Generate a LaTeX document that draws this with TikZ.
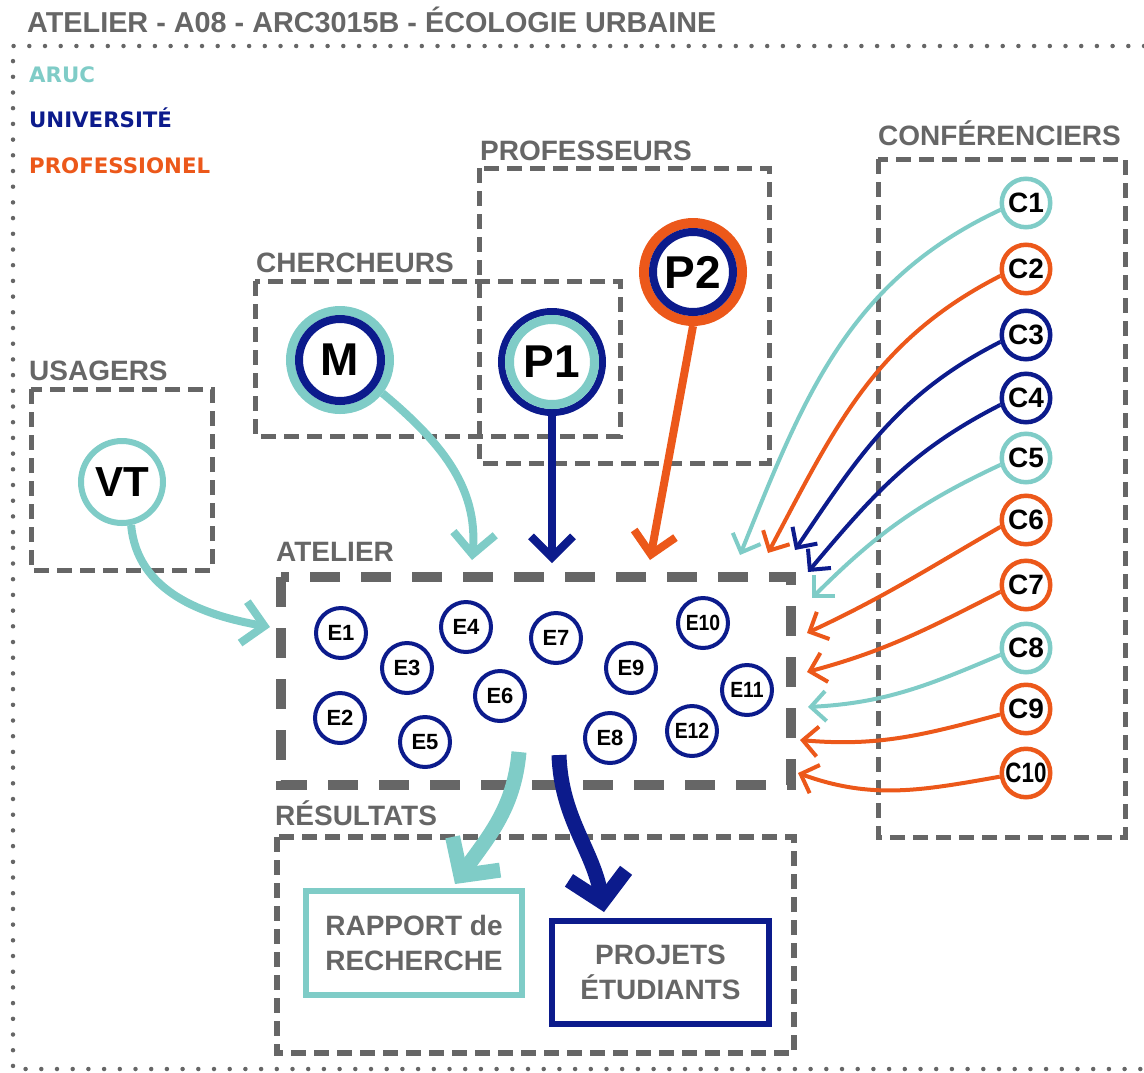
\documentclass[tikz,border=0pt]{standalone}
\usepackage{fontspec}
\setmainfont{Liberation Sans}
\newfontfamily\legfont{DejaVu Sans}
\usetikzlibrary{arrows.meta}
\definecolor{gr}{HTML}{666666}
\definecolor{tl}{HTML}{7FCCC7}
\definecolor{nv}{HTML}{0C1B8C}
\definecolor{org}{HTML}{EC581A}
\begin{document}
\begin{tikzpicture}[x=1pt,y=1pt,
  grp/.style={draw=gr, line width=5pt, dash pattern=on 15pt off 8pt},
  lbl/.style={text=gr, font=\fontsize{28}{30}\selectfont\bfseries, anchor=base west, inner sep=0pt},
  leg/.style={font=\legfont\fontsize{21.3}{24}\selectfont\bfseries, anchor=base west, inner sep=0pt},
  enode/.style={circle, draw=nv, line width=4pt, minimum size=50pt, inner sep=0pt, fill=white, font=\fontsize{22}{22}\selectfont\bfseries},
  cnode/.style={circle, line width=4.5pt, minimum size=48.5pt, inner sep=0pt, fill=white, font=\fontsize{28}{28}\selectfont\bfseries},
  bignode/.style={circle, inner sep=0pt, fill=white, font=\fontsize{46}{46}\selectfont\bfseries},
  carrow/.style={line width=4pt, -{Straight Barb[length=15pt,width=30pt]}},
  tarrow/.style={line width=8pt, -{Straight Barb[length=21pt,width=42pt]}},
  rarrow/.style={line width=15pt, -{Straight Barb[length=27pt,width=58pt]}},
  resbox/.style={rectangle, line width=6pt, inner sep=0pt, text=gr, align=center, font=\fontsize{28}{35}\selectfont\bfseries},
]
\useasboundingbox (0,0) rectangle (1144,-1072);

% title and outer frame
\node[lbl, font=\fontsize{28.8}{32}\selectfont\bfseries] (title) at (27,-32) {ATELIER - A08 - ARC3015B - ÉCOLOGIE URBAINE};
\draw[gr, line width=4.5pt, line cap=round, dash pattern=on 0pt off 15.7pt] (1144,-46) -- (13,-46) -- (13,-1069) -- (1144,-1069);

% legend
\node[leg, text=tl] (lg1) at (29,-82) {ARUC};
\node[leg, text=nv] (lg2) at (29,-127) {UNIVERSITÉ};
\node[leg, text=org] (lg3) at (29,-173) {PROFESSIONEL};

% group boxes
\draw[grp] (31,-389) rectangle (212,-570);
\node[lbl] (lu) at (29,-380) {USAGERS};
\draw[grp] (255,-281) rectangle (620,-436);
\node[lbl] (lc) at (256,-272) {CHERCHEURS};
\draw[grp] (479,-168) rectangle (769,-463);
\node[lbl] (lp) at (480,-160) {PROFESSEURS};
\draw[grp] (878,-159) rectangle (1125,-837);
\node[lbl] (lcf) at (878,-145) {CONFÉRENCIERS};
\draw[grp, line width=5.5pt] (277,-837) rectangle (794,-1053);
\node[lbl] (lr) at (275,-825) {RÉSULTATS};
\draw[gr, line width=10pt, dash pattern=on 30pt off 21pt] (281,-577) rectangle (791,-785);
\node[lbl] (la) at (276,-561) {ATELIER};

% students
\node[enode] (E1) at (341,-633) {E1};
\node[enode] (E2) at (340,-718) {E2};
\node[enode] (E3) at (407,-668) {E3};
\node[enode] (E4) at (466,-627) {E4};
\node[enode] (E5) at (425,-742) {E5};
\node[enode] (E6) at (500,-696) {E6};
\node[enode] (E7) at (556,-638) {E7};
\node[enode] (E8) at (610,-738) {E8};
\node[enode] (E9) at (631,-668) {E9};
\node[enode] (E10) at (703,-623) {\scalebox{0.88}[1]{E10}};
\node[enode] (E11) at (747,-690) {\scalebox{0.88}[1]{E11}};
\node[enode] (E12) at (692,-731) {\scalebox{0.88}[1]{E12}};

% big actors
\node[bignode, draw=tl, line width=9pt, minimum size=99pt] (M) at (340,-360) {M};
\draw[nv, line width=8pt] (M.center) circle[radius=41pt];
\node[bignode, draw=nv, line width=7pt, minimum size=101pt] (P1) at (552,-362) {P1};
\draw[tl, line width=9pt] (P1.center) circle[radius=42.5pt];
\node[bignode, draw=org, line width=10pt, minimum size=98pt] (P2) at (693,-272) {P2};
\draw[nv, line width=8pt] (P2.center) circle[radius=40pt];
\node[bignode, draw=tl, line width=6pt, minimum size=82pt, font=\fontsize{42}{42}\selectfont\bfseries] (VT) at (122,-482) {VT};

% speakers
\foreach \i/\yy/\cc in {1/203/tl, 2/269/org, 3/335/nv, 4/398/nv, 5/458/tl, 6/520/org, 7/585/org, 8/648/tl, 9/709/org}
  \node[cnode, draw=\cc] (C\i) at (1026,-\yy) {C\i};
\node[cnode, draw=org] (C10) at (1026,-773) {\scalebox{0.8}[1]{C10}};

% results
\node[resbox, draw=tl, minimum width=216pt, minimum height=104pt] (rap) at (414,-943) {RAPPORT de\\RECHERCHE};
\node[resbox, draw=nv, minimum width=217pt, minimum height=103pt] (proj) at (660.5,-972.5) {PROJETS\\ÉTUDIANTS};

% arrows into atelier
\coordinate (aM) at (472,-560);
\draw[tarrow, tl] (M.-38) to[out=-40, in=85] (aM);
\coordinate (aP1) at (552,-563);
\draw[tarrow, nv] (P1.south) -- (aP1);
\coordinate (aP2) at (650,-560);
\draw[tarrow, org] (P2.south) -- (aP2);
\coordinate (aVT) at (270,-627);
\draw[tarrow, tl] (VT.-78) to[out=-85, in=170] (aVT);

\foreach \i/\cc/\ex/\ey/\oa/\ia/\an in {1/tl/740/555/205/68/195, 2/org/768/553/207/62/195, 3/nv/795/550/207/56/195, 4/nv/808/572/207/50/195, 5/tl/812/598/205/45/195, 6/org/807/633/210/25/195, 7/org/807/672/207/15/195, 8/tl/808/707/203/3/195, 9/org/800/740/195/-5/192, 10/org/798/773/190/-20/188}
  {\coordinate (tC\i) at (\ex,-\ey);
   \draw[carrow, \cc] (C\i.\an) to[out=\oa, in=\ia] (tC\i);}

% arrows to results
\coordinate (r1s) at (519,-752);
\coordinate (r1t) at (455,-884);
\draw[rarrow, tl] (r1s) to[out=-95, in=55] (r1t);
\coordinate (r2s) at (559,-755);
\coordinate (r2t) at (604,-912);
\draw[rarrow, nv] (r2s) to[out=-88, in=100] (r2t);
\end{tikzpicture}
\end{document}
